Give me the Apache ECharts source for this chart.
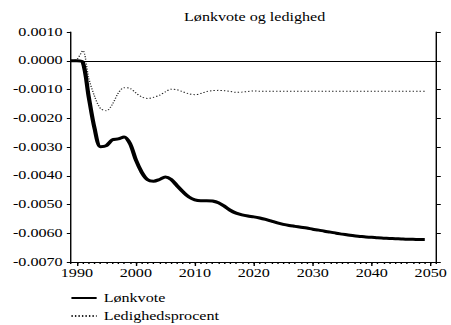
<!DOCTYPE html>
<html>
<head>
<meta charset="utf-8">
<script src="https://cdn.jsdelivr.net/npm/echarts@6/dist/echarts.min.js"></script>
<style>
  html, body { margin: 0; padding: 0; background: #fff; overflow: hidden; }
  #wrap { width: 451px; height: 325px; overflow: hidden; }
  /* the figure is laid out narrow and widened horizontally, as in the printed report */
  #chart { width: 322px; height: 325px; transform: scaleX(1.4006); transform-origin: 0 0; }
</style>
</head>
<body>
<div id="wrap"><div id="chart"></div></div>
<script>
const years = [];
for (let y = 1989; y <= 2049; y++) years.push(y);

const lonkvote = [
  0, 0, -0.00005, -0.00125, -0.00236, -0.00299, -0.00295, -0.00275, -0.00272, -0.00265,
  -0.00288, -0.00345, -0.00388, -0.00414, -0.00419, -0.00413, -0.00404, -0.00413, -0.00435, -0.00456,
  -0.00474, -0.00484, -0.00487, -0.00487, -0.00488, -0.00494, -0.00506, -0.00520, -0.00530, -0.00536,
  -0.00540, -0.00543, -0.00547, -0.00552, -0.00558, -0.00564, -0.00569, -0.00573, -0.00576, -0.00579,
  -0.00582, -0.00586, -0.00589, -0.00593, -0.00596, -0.00600, -0.00603, -0.00606, -0.00609, -0.00611,
  -0.00613, -0.00614, -0.00616, -0.00617, -0.00618, -0.00619, -0.00620, -0.00621, -0.00621, -0.00622,
  -0.00622
];

const ledighedsprocent = [
  0, 0.00005, 0.00035, -0.00060, -0.00124, -0.00166, -0.00174, -0.00152, -0.00113, -0.00094,
  -0.00096, -0.00112, -0.00126, -0.00131, -0.00127, -0.00120, -0.00108, -0.00099, -0.00101, -0.00108,
  -0.00115, -0.00118, -0.00114, -0.00107, -0.00104, -0.00103, -0.00104, -0.00107, -0.00110, -0.00109,
  -0.00107, -0.00105, -0.00106, -0.00106, -0.00106, -0.00106, -0.00106, -0.00106, -0.00106, -0.00106,
  -0.00106, -0.00106, -0.00106, -0.00106, -0.00106, -0.00106, -0.00106, -0.00106, -0.00106, -0.00106,
  -0.00106, -0.00106, -0.00106, -0.00106, -0.00106, -0.00106, -0.00106, -0.00106, -0.00106, -0.00106,
  -0.00106
];

const yearLabels = [1990, 2000, 2010, 2020, 2030, 2040, 2050];
const minorYears = [];
for (let y = 1989; y <= 2051; y++) minorYears.push(y);

const titleText = 'Lønkvote og ledighed';
const seriesNames = ['Lønkvote', 'Ledighedsprocent'];

const FONT = 'Liberation Serif';
const FS = 11.5;

const chart = echarts.init(document.getElementById('chart'), null, { renderer: 'svg' });

const yCommon = {
  type: 'value', min: -0.007, max: 0.001, interval: 0.001,
  splitLine: { show: false },
  axisLine: { show: true, lineStyle: { color: '#000', width: 1 } },
  axisTick: { show: true, inside: false, length: 3, lineStyle: { color: '#000', width: 1 } }
};

// one legend block per row, stacked under the plot
function legendRow(name, top) {
  return {
    show: true, orient: 'horizontal', left: 50, top: top,
    itemWidth: 18, itemHeight: 12, padding: 0,
    itemStyle: { opacity: 0 },
    textStyle: { fontFamily: FONT, fontSize: FS, color: '#000' },
    data: [name]
  };
}

chart.setOption({
  animation: false,
  backgroundColor: '#fff',
  textStyle: { fontFamily: FONT, color: '#000' },
  graphic: [{
    type: 'text', x: 181.8, y: 11,
    style: { text: titleText, font: FS + 'px "' + FONT + '"', fill: '#000', align: 'center', verticalAlign: 'top' }
  }],
  grid: { left: 50.7, right: 9.3, top: 32, bottom: 63, containLabel: false },
  legend: [legendRow(seriesNames[0], 292), legendRow(seriesNames[1], 310)],
  xAxis: [{
    type: 'value', min: 1989, max: 2051, position: 'bottom',
    splitLine: { show: false },
    axisLine: { show: true, onZero: false, lineStyle: { color: '#000', width: 1 } },
    axisTick: { show: true, length: 4, customValues: yearLabels, lineStyle: { color: '#000', width: 1 } },
    axisLabel: { customValues: yearLabels, fontFamily: FONT, fontSize: FS, color: '#000', margin: 5,
                 formatter: v => String(v) }
  }, {
    type: 'value', min: 1989, max: 2051, position: 'bottom',
    splitLine: { show: false },
    axisLine: { show: false, onZero: false },
    axisTick: { show: true, length: 2, customValues: minorYears, lineStyle: { color: '#000', width: 1 } },
    axisLabel: { show: false }
  }],
  yAxis: [Object.assign({}, yCommon, {
    position: 'left',
    axisLabel: { fontFamily: FONT, fontSize: FS, color: '#000', margin: 6, formatter: v => v.toFixed(4) }
  }), Object.assign({}, yCommon, {
    position: 'right',
    axisLabel: { show: false }
  })],
  series: [{
    name: seriesNames[0], type: 'line', xAxisIndex: 0, yAxisIndex: 0,
    data: years.map((y, i) => [y, lonkvote[i]]),
    smooth: 0.3, symbol: 'none',
    lineStyle: { color: '#000', width: 3 },
    itemStyle: { color: '#000' },
    markLine: {
      silent: true, symbol: 'none', label: { show: false },
      lineStyle: { color: '#000', width: 1, type: 'solid' },
      data: [{ yAxis: 0 }]
    },
    z: 3
  }, {
    name: seriesNames[1], type: 'line', xAxisIndex: 0, yAxisIndex: 0,
    data: years.map((y, i) => [y, ledighedsprocent[i]]),
    smooth: 0.3, symbol: 'none',
    lineStyle: { color: '#222', width: 1, type: [1, 1.5] },
    itemStyle: { color: '#222' },
    z: 2
  }]
});
</script>
</body>
</html>
